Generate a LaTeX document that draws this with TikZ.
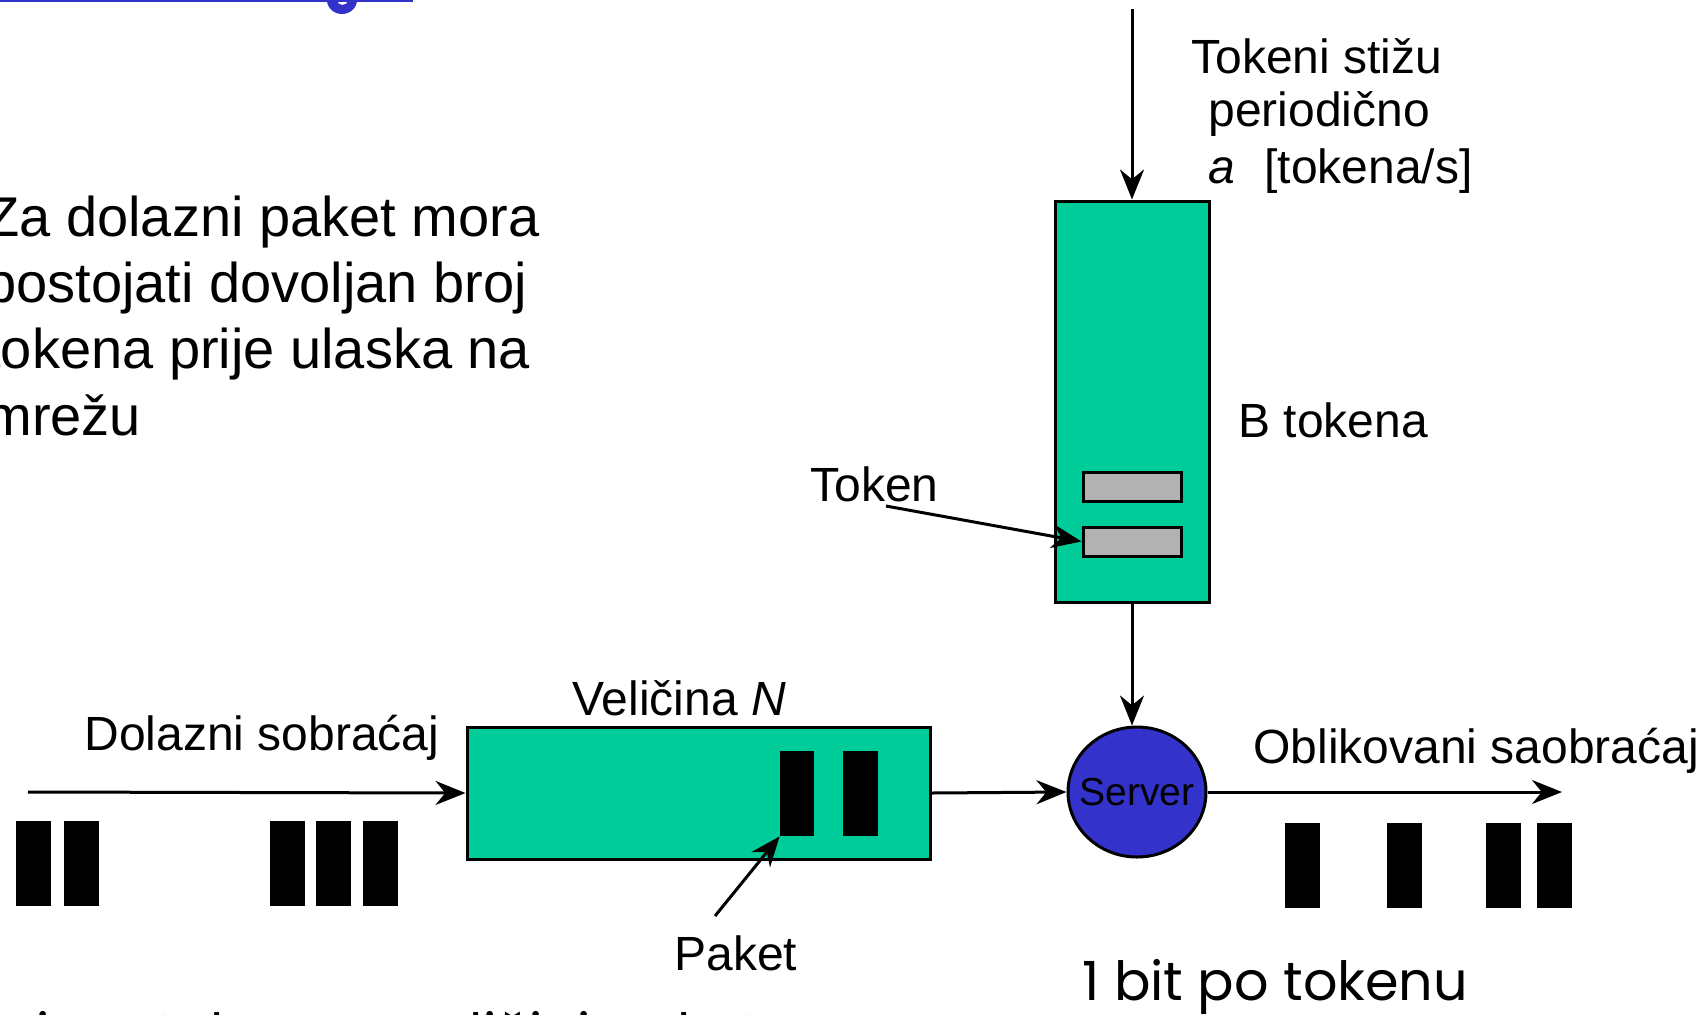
\documentclass[tikz,border=0pt]{standalone}
\usepackage{fontspec}
\setmainfont{Liberation Sans}
\newfontfamily\comicfont{Poppins}
\usetikzlibrary{arrows.meta,shapes.geometric}
\definecolor{tealbox}{RGB}{0,204,153}
\definecolor{serverblue}{RGB}{51,51,204}
\definecolor{tokengray}{RGB}{178,178,178}
\begin{document}
\begin{tikzpicture}[x=0.5pt,y=-0.5pt,
  box/.style={draw=black, line width=1.5pt, fill=tealbox, rectangle, inner sep=0pt},
  pkt/.style={fill=black, rectangle, inner sep=0pt, minimum width=17.5pt, minimum height=42.5pt},
  tok/.style={draw=black, line width=1.5pt, fill=tokengray, rectangle, inner sep=0pt, minimum width=49pt, minimum height=14.5pt},
  conn/.style={line width=1.5pt, -{Stealth[length=15pt,width=12pt]}},
  lbl/.style={font=\fontsize{24}{28}\selectfont, inner sep=0pt, anchor=base west},
  para/.style={font=\fontsize{28}{33}\selectfont, inner sep=0pt, anchor=base west},
  comic/.style={font=\comicfont\fontsize{27}{32}\selectfont, inner sep=0pt, anchor=base west},
]
\useasboundingbox (0,0) rectangle (1698,1014);
\clip (0,0) rectangle (1698,1014);
\fill[white] (0,0) rectangle (1698,1014);

% title fragment at top
\draw[serverblue, line width=1.2pt] (0,1) -- (413,1);
\fill[serverblue, even odd rule] (342,0) ellipse [x radius=15, y radius=14] (342.5,0) ellipse [x radius=5.5, y radius=5];

% left paragraph
\node[para] (p1) at (-15,236) {Za dolazni paket mora};
\node[para] (p2) at (-15,302) {postojati dovoljan broj};
\node[para] (p3) at (-15,368) {tokena prije ulaska na};
\node[para] (p4) at (-15,435) {mrežu};

% token bucket
\node[box, minimum width=77pt, minimum height=200.5pt] (bucket) at (1132,401.5) {};
\node[tok] (tok1) at (1132,486.5) {};
\node[tok] (tok2) at (1132,541.5) {};
\coordinate (topin) at (1132,9);
\draw[conn] (topin) -- (bucket.north);

\node[lbl] (t1) at (1191,73) {Tokeni stižu};
\node[lbl] (t2) at (1208,126) {periodično};
\node[lbl] (t3) at (1208,183) {\textit{a}\hspace{8pt} [tokena/s]};
\node[lbl] (bt) at (1238,437) {B tokena};
\node[lbl] (toklbl) at (810,501) {Token};
\coordinate (tokstart) at (886,506);
\draw[conn] (tokstart) -- (tok2.west);

% queue
\node[box, minimum width=231.5pt, minimum height=66pt] (queue) at (698.5,793) {};
\node[pkt, minimum width=17pt] (qp1) at (797,793.5) {};
\node[pkt, minimum width=17.5pt] (qp2) at (860.5,793.5) {};
\node[lbl] (vel) at (572,715) {Veličina \textit{N}};
\node[lbl] (paket) at (674,970) {Paket};
\coordinate (pakstart) at (715,916);
\draw[conn] (pakstart) -- (qp1.south west);

% server
\node[ellipse, draw=black, line width=1.5pt, fill=serverblue, minimum width=69pt, minimum height=65pt, inner sep=0pt,
  label={[font=\fontsize{19.5}{22}\selectfont, inner sep=0pt]center:Server}] (server) at (1137,792) {};

% connectors
\coordinate (inL) at (28,792);
\draw[conn] (inL) -- (queue.west);
\draw[conn] (queue.east) -- (server.west);
\draw[conn] (bucket.south) -- (bucket.south |- server.north);
\coordinate (outR) at (1562,792);
\draw[conn] (server.east) -- (outR);

\node[lbl] (dol) at (84,750) {Dolazni sobraćaj};
\node[lbl] (obl) at (1253,763) {Oblikovani saobraćaj};

% incoming packets
\node[pkt] (in1) at (33.5,863.5) {};
\node[pkt] (in2) at (81.5,863.5) {};
\node[pkt] (in3) at (287,863.5) {};
\node[pkt] (in4) at (333,863.5) {};
\node[pkt] (in5) at (380.5,863.5) {};

% shaped packets
\node[pkt] (out1) at (1302.5,865.5) {};
\node[pkt] (out2) at (1404,865.5) {};
\node[pkt] (out3) at (1503.5,865.5) {};
\node[pkt] (out4) at (1554.5,865.5) {};

% bottom notes
\node[comic] (bit) at (1082,1000) {1 bit po tokenu};
\node[comic] (cut) at (36,1052) {ima tokena u veličini paketa};
\end{tikzpicture}
\end{document}
